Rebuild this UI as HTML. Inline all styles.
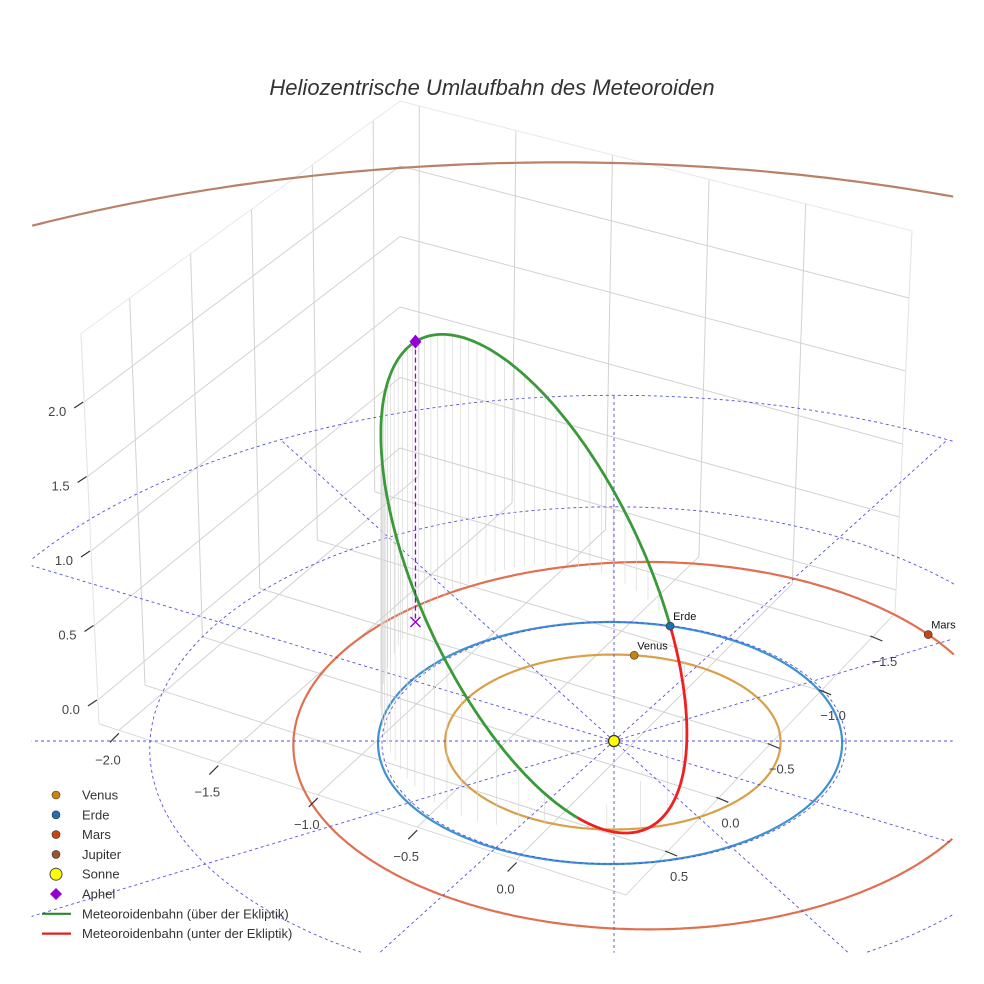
<!DOCTYPE html>
<html><head><meta charset="utf-8"><title>Heliozentrische Umlaufbahn</title>
<style>
html,body{margin:0;padding:0;background:#fff;width:984px;height:984px;overflow:hidden;}
svg{display:block;font-family:"Liberation Sans",sans-serif;overflow:hidden;}
</style></head>
<body>
<svg id="chart" width="984" height="984" viewBox="0 0 984 984">
<rect x="0" y="0" width="984" height="984" fill="#fff"/>
<g id="box"></g>
<g id="plane"></g>
<g id="marks"></g>
<g id="axes"></g>
<text x="492" y="95" text-anchor="middle" font-size="22" font-style="italic" fill="#333">Heliozentrische Umlaufbahn des Meteoroiden</text>
<g id="legend"></g>
</svg>
<script>
// ---- data ----
const planetNames = ["Venus", "Erde", "Mars", "Jupiter"];
const planetA = [0.723, 1.0, 1.524, 5.203];
const planetE = [0.007, 0.017, 0.0934, 0.048];
const planetPeriDeg = [0, 0, 180, 0];
const planetPosDeg = [83, 75.7, 33, 128];
const aphelionPoint = [-0.87, 1.0, 1.9];
const nodePoint = [0.246, 0.967, 0];
const gridRadii = [1, 2, 3];
const gridAnglesDeg = [0, 30, 60, 90, 120, 150, 180, 210, 240, 270, 300, 330];
const xTickValues = [-2.0, -1.5, -1.0, -0.5, 0.0];
const xTickLabels = ["\u22122.0", "\u22121.5", "\u22121.0", "\u22120.5", "0.0"];
const yTickValues = [0.5, 0.0, -0.5, -1.0, -1.5];
const yTickLabels = ["0.5", "0.0", "\u22120.5", "\u22121.0", "\u22121.5"];
const zTickValues = [0.0, 0.5, 1.0, 1.5, 2.0];
const zTickLabels = ["0.0", "0.5", "1.0", "1.5", "2.0"];

// ---- styles ----
const orbitColors = ["#d8a048", "#3f92d2", "#e07050", "#b8826a"];
const markerColors = ["#cc8010", "#1f6fb4", "#cc4410", "#a0522d"];
const NS = "http://www.w3.org/2000/svg";
function mk(parent, tag, attrs) {
  const e = document.createElementNS(NS, tag);
  for (const k in attrs) e.setAttribute(k, attrs[k]);
  parent.appendChild(e);
  return e;
}
function proj(X, Y, Z) {
  const k = 1 / (1 + 0.0167 * Y);
  return [614 + 232 * X * k, 741 - (121 * Y + 150 * Z) * k];
}
const CL = {x0: 30, x1: 954, y0: 0, y1: 953};
function inside(p) { return p[0] >= CL.x0 && p[0] <= CL.x1 && p[1] >= CL.y0 && p[1] <= CL.y1; }
function clippedPath(pts) {
  let d = "", pen = false;
  pts.forEach(p => {
    if (inside(p)) { d += (pen ? "L" : "M") + p[0].toFixed(1) + "," + p[1].toFixed(1); pen = true; }
    else pen = false;
  });
  return d;
}
// ---- box geometry ----
const zmin = -0.16, zmax = 2.46;
const edges = {
  left: {xb: 99, xt: 81, y0: 700, s: 149},
  back: {xb: 400, xt: 400, y0: 448, s: 141},
  right: {xb: 895, xt: 912, y0: 590, s: 146}
};
function edgePt(e, z) { const t = (z - zmin) / (zmax - zmin); return [e.xb + t * (e.xt - e.xb), e.y0 - e.s * z]; }
function lerp(a, b, t) { return [a[0] + (b[0] - a[0]) * t, a[1] + (b[1] - a[1]) * t]; }
const F = [626, 895], L = edgePt(edges.left, zmin), B = edgePt(edges.back, zmin), R = edgePt(edges.right, zmin);
function floorPt(a, b) {
  return [F[0] + a * (L[0] - F[0]) + b * (R[0] - F[0]) + a * b * (F[0] - L[0] - R[0] + B[0]),
          F[1] + a * (L[1] - F[1]) + b * (R[1] - F[1]) + a * b * (F[1] - L[1] - R[1] + B[1])];
}
const xF = 0.55, xL = -2.1, yF = 0.9, yR = -1.72;
function fx(v) { return (xF - v) / (xF - xL); }
function fy(v) { return (yF - v) / (yF - yR); }

const box = document.getElementById("box");
function ln(g, p, q, stroke, w, name) {
  const e = mk(g, "line", {x1: p[0].toFixed(1), y1: p[1].toFixed(1), x2: q[0].toFixed(1), y2: q[1].toFixed(1), stroke: stroke, "stroke-width": w});
  
  
  return e;
}
zTickValues.forEach(z => {
  ln(box, edgePt(edges.left, z), edgePt(edges.back, z), "#d2d2d2", 1, "left-wall-z-gridline");
  ln(box, edgePt(edges.back, z), edgePt(edges.right, z), "#d2d2d2", 1, "back-wall-z-gridline");
});
yTickValues.forEach(v => {
  const f = fy(v);
  ln(box, lerp(edgePt(edges.left, zmin), edgePt(edges.back, zmin), f), lerp(edgePt(edges.left, zmax), edgePt(edges.back, zmax), f), "#d2d2d2", 1, "left-wall-y-gridline");
});
xTickValues.forEach(v => {
  const g = 1 - fx(v);
  ln(box, lerp(edgePt(edges.back, zmin), edgePt(edges.right, zmin), g), lerp(edgePt(edges.back, zmax), edgePt(edges.right, zmax), g), "#d2d2d2", 1, "back-wall-x-gridline");
});
xTickValues.forEach(v => { const a = fx(v); ln(box, floorPt(a, 0), floorPt(a, 1), "#d2d2d2", 1, "floor-x-gridline"); });
yTickValues.forEach(v => { const b = fy(v); ln(box, floorPt(0, b), floorPt(1, b), "#d2d2d2", 1, "floor-y-gridline"); });
ln(box, edgePt(edges.left, zmin), edgePt(edges.left, zmax), "#e2e2e2", 1, "box-edge-left");
ln(box, edgePt(edges.right, zmin), edgePt(edges.right, zmax), "#e2e2e2", 1, "box-edge-right");
ln(box, edgePt(edges.left, zmax), edgePt(edges.back, zmax), "#e8e8e8", 1, "box-edge-top-left");
ln(box, edgePt(edges.back, zmax), edgePt(edges.right, zmax), "#e8e8e8", 1, "box-edge-top-right");
ln(box, F, L, "#d8d8d8", 1, "box-edge-floor-front-left");
ln(box, F, R, "#d8d8d8", 1, "box-edge-floor-front-right");

// ---- ticks ----
const axes = document.getElementById("axes");
function txt(g, x, y, s, anchor, size, fill, name) {
  const e = mk(g, "text", {x: x.toFixed(1), y: y.toFixed(1), "text-anchor": anchor, "font-size": size, fill: fill});
  e.textContent = s;
  
  
  return e;
}
xTickValues.forEach((v, i) => {
  const p = floorPt(fx(v), 0);
  ln(axes, [p[0], p[1] + 3], [p[0] - 9, p[1] + 12], "#333", 1.2, "x-tick-mark");
  txt(axes, p[0] - 11, p[1] + 34, xTickLabels[i], "middle", 13, "#444", "x-tick-label");
});
yTickValues.forEach((v, i) => {
  const p = floorPt(0, fy(v));
  ln(axes, [p[0] - 2, p[1] - 1], [p[0] + 10, p[1] + 4], "#333", 1.2, "y-tick-mark");
  txt(axes, p[0] + 12, p[1] + 29, yTickLabels[i], "middle", 13, "#444", "y-tick-label");
});
zTickValues.forEach((v, i) => {
  const p = edgePt(edges.left, v);
  ln(axes, [p[0] - 1, p[1]], [p[0] - 10, p[1] + 6], "#333", 1.2, "z-tick-mark");
  txt(axes, p[0] - 18, p[1] + 14, zTickLabels[i], "end", 13, "#444", "z-tick-label");
});

// ---- ecliptic plane ----
const plane = document.getElementById("plane");
function pathFrom(pts) { return pts.map((p, i) => (i ? "L" : "M") + p[0].toFixed(1) + "," + p[1].toFixed(1)).join(""); }
function planetXY(i, thDeg) {
  const th = thDeg * Math.PI / 180, w = planetPeriDeg[i] * Math.PI / 180;
  const a = planetA[i], e = planetE[i];
  const r = a * (1 - e * e) / (1 + e * Math.cos(th - w));
  return [r * Math.cos(th), r * Math.sin(th)];
}
planetNames.forEach((n, i) => {
  const pts = [];
  for (let d = 0; d <= 360; d += 0.5) { const q = planetXY(i, d); pts.push(proj(q[0], q[1], 0)); }
  const e = mk(plane, "path", {d: clippedPath(pts), fill: "none", stroke: orbitColors[i], "stroke-width": 2.2});
  
  
});
gridRadii.forEach(r => {
  const pts = [];
  for (let d = 0; d <= 360; d += 0.5) { const t = d * Math.PI / 180; pts.push(proj(r * Math.cos(t), r * Math.sin(t), 0)); }
  const e = mk(plane, "path", {d: clippedPath(pts), fill: "none", stroke: "#5050e0", "stroke-width": 0.9, "stroke-dasharray": "3,3"});
  
  
});
const rMax = gridRadii[gridRadii.length - 1];
gridAnglesDeg.forEach(d => {
  const t = d * Math.PI / 180, pts = [];
  for (let s = 0; s <= 300; s++) { const r = rMax * s / 300; pts.push(proj(r * Math.cos(t), r * Math.sin(t), 0)); }
  const e = mk(plane, "path", {d: clippedPath(pts), fill: "none", stroke: "#5050e0", "stroke-width": 0.9, "stroke-dasharray": "3,3"});
  
  
});

// ---- meteoroid orbit ----
const marks = document.getElementById("marks");
const dot = (a, b) => a[0] * b[0] + a[1] * b[1] + a[2] * b[2];
const norm = a => Math.sqrt(dot(a, a));
const rA = norm(aphelionPoint), r1 = norm(nodePoint);
const c = dot(aphelionPoint, nodePoint) / (rA * r1);
const ecc = (rA - r1) / (rA - r1 * c);
const pSem = rA * (1 - ecc);
const nu1 = Math.PI - Math.acos(c);
const Pv = aphelionPoint.map(v => -v / rA);
const Qv = nodePoint.map((v, i) => (v / r1 - Math.cos(nu1) * Pv[i]) / Math.sin(nu1));
function orbitPt(nu) {
  const r = pSem / (1 + ecc * Math.cos(nu));
  return [0, 1, 2].map(i => r * (Math.cos(nu) * Pv[i] + Math.sin(nu) * Qv[i]));
}
for (let j = 0; j < 64; j++) {
  const M = -Math.PI + (j + 0.5) * 2 * Math.PI / 64;
  let E = M;
  for (let it = 0; it < 30; it++) E = E - (E - ecc * Math.sin(E) - M) / (1 - ecc * Math.cos(E));
  const nu = 2 * Math.atan2(Math.sqrt(1 + ecc) * Math.sin(E / 2), Math.sqrt(1 - ecc) * Math.cos(E / 2));
  const q = orbitPt(nu);
  const a = proj(q[0], q[1], q[2]), b = proj(q[0], q[1], 0);
  ln(marks, a, b, "#d4d4d4", 0.6, "projection-drop-line");
}
let seg = [], segUp = null;
function flush() {
  if (seg.length > 1) {
    const e = mk(marks, "path", {d: pathFrom(seg), fill: "none", stroke: segUp ? "#3a9a3a" : "#f02020", "stroke-width": 2.8, "stroke-linejoin": "round"});
    
    
  }
}
for (let d = -180; d <= 180; d += 0.5) {
  const q = orbitPt(d * Math.PI / 180);
  const up = q[2] >= 0;
  const p = proj(q[0], q[1], q[2]);
  if (segUp !== null && up !== segUp) { seg.push(p); flush(); seg = [p]; }
  else seg.push(p);
  segUp = up;
}
flush();
const ap = proj(aphelionPoint[0], aphelionPoint[1], aphelionPoint[2]);
const af = proj(aphelionPoint[0], aphelionPoint[1], 0);
let el = mk(marks, "line", {x1: ap[0], y1: ap[1], x2: af[0], y2: af[1], stroke: "#9400d3", "stroke-width": 1.3, "stroke-dasharray": "5,3"});


el = mk(marks, "path", {d: `M${af[0] - 5},${af[1] - 5}L${af[0] + 5},${af[1] + 5}M${af[0] - 5},${af[1] + 5}L${af[0] + 5},${af[1] - 5}`, stroke: "#9400d3", "stroke-width": 1.4});


el = mk(marks, "path", {d: `M${ap[0]},${ap[1] - 7}L${ap[0] + 6},${ap[1]}L${ap[0]},${ap[1] + 7}L${ap[0] - 6},${ap[1]}Z`, fill: "#9400d3"});


const sp = proj(0, 0, 0);
el = mk(marks, "circle", {cx: sp[0], cy: sp[1], r: 5.5, fill: "#ffff00", stroke: "#333", "stroke-width": 1.2});


planetNames.forEach((n, i) => {
  const q = planetXY(i, planetPosDeg[i]);
  const p = proj(q[0], q[1], 0);
  if (!inside(p)) return;
  const m = mk(marks, "circle", {cx: p[0].toFixed(1), cy: p[1].toFixed(1), r: 4, fill: markerColors[i], stroke: "#333", "stroke-width": 0.6});
  
  
  txt(marks, p[0] + 3, p[1] - 6, n, "start", 11, "#111", "planet-label-" + n.toLowerCase());
});

// ---- legend ----
const lg = document.getElementById("legend");
const legendLabels = ["Venus", "Erde", "Mars", "Jupiter", "Sonne", "Aphel", "Meteoroidenbahn (über der Ekliptik)", "Meteoroidenbahn (unter der Ekliptik)"];
legendLabels.forEach((s, i) => {
  const y = 795 + i * 19.8;
  let m;
  if (i < 4) m = mk(lg, "circle", {cx: 56, cy: y, r: 4, fill: markerColors[i], stroke: "#333", "stroke-width": 0.6});
  else if (i === 4) m = mk(lg, "circle", {cx: 56, cy: y, r: 6, fill: "#ffff00", stroke: "#444", "stroke-width": 1});
  else if (i === 5) m = mk(lg, "path", {d: `M56,${y - 6}L62,${y}L56,${y + 6}L50,${y}Z`, fill: "#9400d3"});
  else m = mk(lg, "line", {x1: 42, y1: y, x2: 71, y2: y, stroke: i === 6 ? "#2a8a2a" : "#e02020", "stroke-width": 2.2});
  
  
  txt(lg, 82, y + 4.5, s, "start", 13, "#333", "legend-entry");
});
</script>
</body></html>
